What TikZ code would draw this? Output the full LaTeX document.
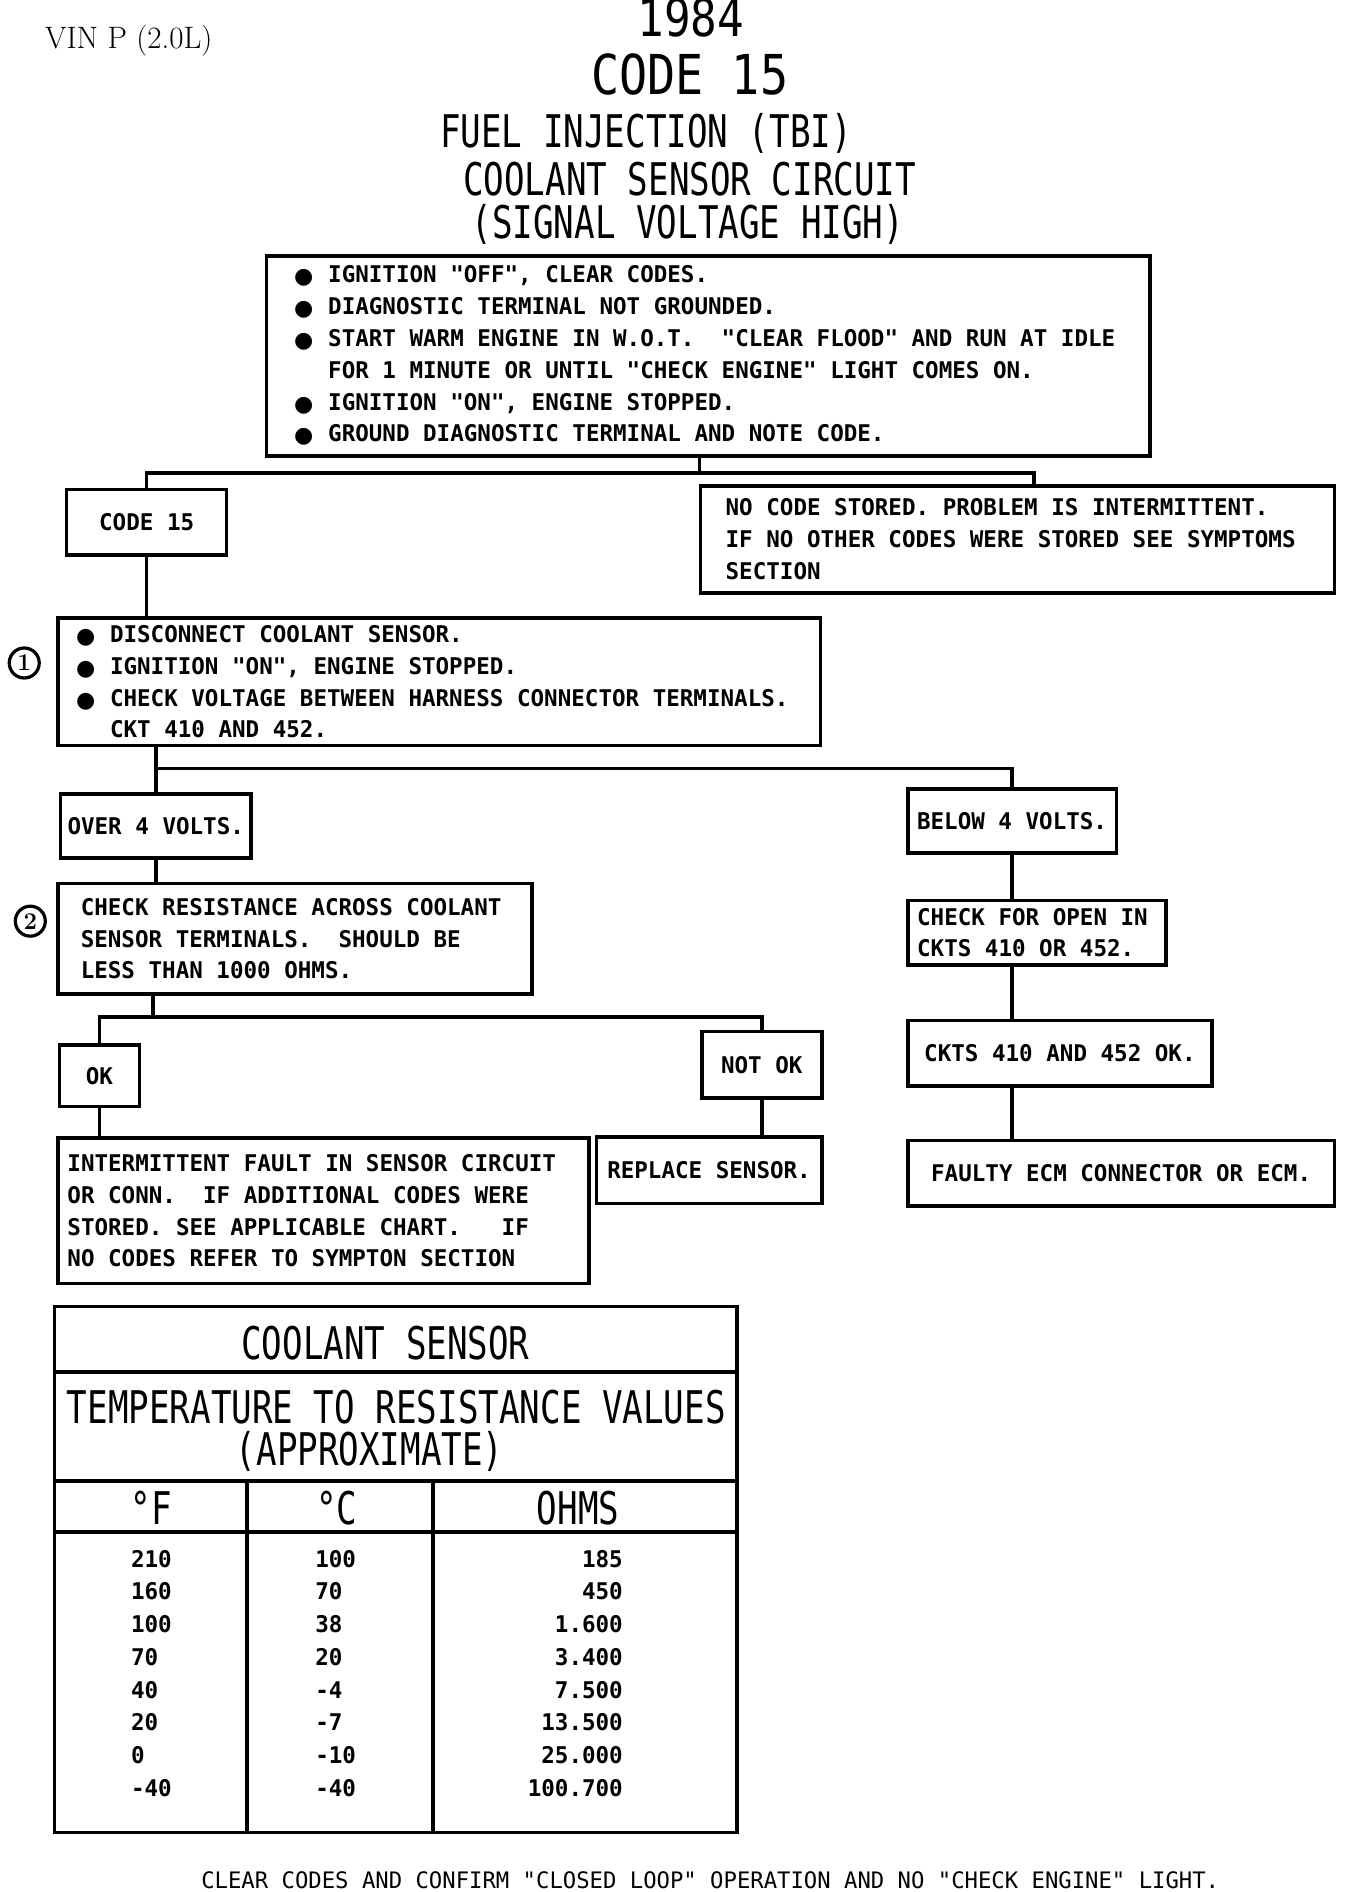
\documentclass[tikz,border=0pt]{standalone}
\usepackage{fontspec}
\newfontfamily\bodyf[FakeStretch=0.98]{DejaVu Sans Mono}
\newfontfamily\titlef[FakeStretch=0.76]{DejaVu Sans Mono}
\newfontfamily\codef[FakeStretch=0.85]{DejaVu Sans Mono}
\newfontfamily\symf{DejaVu Sans}
\newcommand\bodyt{\bodyf\bfseries\fontsize{23pt}{31.8pt}\selectfont\frenchspacing}
\newcommand\ttlt{\titlef\fontsize{45pt}{45pt}\selectfont}
\newcommand\foott{\bodyf\fontsize{22.7pt}{22.7pt}\selectfont\frenchspacing}
\newcommand\bl{\makebox[34pt][l]{\symf\fontsize{22pt}{22pt}\selectfont\raisebox{-1pt}{\char"25CF}}}
\begin{document}
\begin{tikzpicture}[x=1.212pt,y=-1.212pt,
  box/.style={draw, line width=3.6pt, inner sep=0pt, font=\bodyt},
  txt/.style={font=\bodyt, align=left, inner sep=0pt, anchor=west},
  link/.style={line width=3.6pt},
  tbl/.style={line width=3.6pt},
  ttl/.style={font=\ttlt, anchor=base, inner sep=0pt},
  num/.style={font=\bodyt, inner sep=0pt},
  stepno/.style={circle, draw, line width=3.2pt, minimum size=30pt, inner sep=0pt,
    font=\rmfamily\bfseries\fontsize{24pt}{24pt}\selectfont}]
\useasboundingbox (0,0) rectangle (1109,1561);

% ---------- titles ----------
\node[font=\codef\fontsize{52pt}{52pt}\selectfont, anchor=base, inner sep=0pt] (year) at (570,30) {1984};
\node[font=\codef\fontsize{55pt}{55pt}\selectfont, anchor=base, inner sep=0pt] (code) at (569,78) {CODE 15};
\node[ttl] (fuel) at (533,122) {FUEL INJECTION (TBI)};
\node[ttl] (circ) at (569,161) {COOLANT SENSOR CIRCUIT};
\node[ttl] (sig) at (567.5,197) {(SIGNAL VOLTAGE HIGH)};
\node[font=\rmfamily\fontsize{31pt}{31pt}\selectfont, anchor=base west, inner sep=0pt] (vin) at (37,40) {VIN P (2.0L)};

% ---------- boxes ----------
\node[box, minimum width=883.5pt, minimum height=200pt] (b1) at (584.5,293.5) {};
\node[txt] (b1t) at ([xshift=29.1pt]b1.west) {\bl IGNITION "OFF", CLEAR CODES.\\
\bl DIAGNOSTIC TERMINAL NOT GROUNDED.\\
\bl START WARM ENGINE IN W.O.T.\ \ "CLEAR FLOOD" AND RUN AT IDLE\\
\hspace*{34pt}FOR 1 MINUTE OR UNTIL "CHECK ENGINE" LIGHT COMES ON.\\
\bl IGNITION "ON", ENGINE STOPPED.\\
\bl GROUND DIAGNOSTIC TERMINAL AND NOTE CODE.};

\node[box, minimum width=160pt, minimum height=65.4pt] (code15) at (121,431) {CODE 15};

\node[box, minimum width=633.9pt, minimum height=106.7pt] (nocode) at (839.5,445) {};
\node[txt] (nocodet) at ([xshift=26.7pt]nocode.west) {NO CODE STORED. PROBLEM IS INTERMITTENT.\\
IF NO OTHER CODES WERE STORED SEE SYMPTOMS\\
SECTION};

\node[box, minimum width=762.3pt, minimum height=127.3pt] (step1) at (362.5,562.5) {};
\node[txt] (step1t) at ([xshift=19.4pt]step1.west) {\bl DISCONNECT COOLANT SENSOR.\\
\bl IGNITION "ON", ENGINE STOPPED.\\
\bl CHECK VOLTAGE BETWEEN HARNESS CONNECTOR TERMINALS.\\
\hspace*{34pt}CKT 410 AND 452.};
\node[stepno] (n1) at (20,547) {1};

\node[box, minimum width=190.3pt, minimum height=64.2pt] (over4) at (128.5,681.5) {OVER 4 VOLTS.};
\node[box, minimum width=208.5pt, minimum height=64.2pt] (below4) at (835,677.5) {BELOW 4 VOLTS.};

\node[box, minimum width=473.9pt, minimum height=110.3pt] (step2) at (243.5,774.5) {};
\node[txt] (step2t) at ([xshift=24.2pt]step2.west) {CHECK RESISTANCE ACROSS COOLANT\\
SENSOR TERMINALS.\ \ SHOULD BE\\
LESS THAN 1000 OHMS.};
\node[stepno] (n2) at (25,760) {2};

\node[box, minimum width=258.2pt, minimum height=64.2pt] (open) at (855.5,769.5) {};
\node[txt] (opent) at ([xshift=10.9pt]open.west) {CHECK FOR OPEN IN\\
CKTS 410 OR 452.};

\node[box, minimum width=304.2pt, minimum height=65.4pt] (ckts) at (874.5,869) {CKTS 410 AND 452 OK.};
\node[box, minimum width=426.6pt, minimum height=65.4pt] (faulty) at (925,968) {FAULTY ECM CONNECTOR OR ECM.};

\node[box, minimum width=80pt, minimum height=61.8pt] (ok) at (82,887.5) {OK};
\node[box, minimum width=120pt, minimum height=66.7pt] (notok) at (628.5,878.5) {NOT OK};

\node[box, minimum width=530.9pt, minimum height=145.4pt] (inter) at (267,999) {};
\node[txt] (intert) at ([xshift=10.9pt]inter.west) {INTERMITTENT FAULT IN SENSOR CIRCUIT\\
OR CONN.\ \ IF ADDITIONAL CODES WERE\\
STORED. SEE APPLICABLE CHART.\ \ \ IF\\
NO CODES REFER TO SYMPTON SECTION};
\node[box, minimum width=225.4pt, minimum height=66.7pt] (replace) at (585,965.5) {REPLACE SENSOR.};

% ---------- connectors ----------
\coordinate (h1L) at (121,390);
\coordinate (h1M) at (577,390);
\coordinate (h1R) at (853,390);
\draw[link] (b1.south -| h1M) -- (h1M);
\draw[link] (code15.north) -- (h1L) -- (h1R) -- (nocode.north -| h1R);
\draw[link] (code15.south) -- (step1.north -| code15.south);

\coordinate (h2L) at (128.5,634);
\coordinate (h2R) at (835,634);
\draw[link] (step1.south -| over4.north) -- (over4.north);
\draw[link] (h2L) -- (h2R) -- (below4.north);
\draw[link] (over4.south) -- (step2.north -| over4.south);

\coordinate (h3L) at (82,839);
\coordinate (h3M) at (126,839);
\coordinate (h3R) at (628.5,839);
\draw[link] (step2.south -| h3M) -- (h3M);
\draw[link] (ok.north) -- (h3L) -- (h3R) -- (notok.north);
\draw[link] (ok.south) -- (inter.north -| ok.south);
\draw[link] (notok.south) -- (replace.north -| notok.south);

\draw[link] (below4.south) -- (open.north -| below4.south);
\draw[link] (open.south -| below4.south) -- (ckts.north -| below4.south);
\draw[link] (ckts.south -| below4.south) -- (faulty.north -| below4.south);

% ---------- table ----------
\draw[tbl] (45,1078) rectangle (608,1512);
\draw[tbl] (45,1132) -- (608,1132);
\draw[tbl] (45,1222) -- (608,1222);
\draw[tbl] (45,1264) -- (608,1264);
\draw[tbl] (204,1222) -- (204,1512);
\draw[tbl] (357,1222) -- (357,1512);

\node[ttl] (tcs) at (318,1121.5) {COOLANT SENSOR};
\node[ttl] (ttr) at (327,1174.5) {TEMPERATURE TO RESISTANCE VALUES};
\node[ttl] (tap) at (305,1209.5) {(APPROXIMATE)};
\node[ttl] (hF) at (125,1257.5) {°F};
\node[ttl] (hC) at (278,1257.5) {°C};
\node[ttl] (hO) at (477,1257.5) {OHMS};

\foreach \f/\c/\o [count=\i from 0] in {210/100/185, 160/70/450, 100/38/1.600, 70/20/3.400,
    40/-4/7.500, 20/-7/13.500, 0/-10/25.000, -40/-40/100.700}{
  \node[num, anchor=base west] (f\i) at (108,1293+27*\i) {\f};
  \node[num, anchor=base west] (c\i) at (260,1293+27*\i) {\c};
  \node[num, anchor=base east] (o\i) at (514,1293+27*\i) {\o};
}

% ---------- footer ----------
\node[font=\foott, anchor=base, inner sep=0pt] (foot) at (586,1558) {CLEAR CODES AND CONFIRM "CLOSED LOOP" OPERATION AND NO "CHECK ENGINE" LIGHT.};
\end{tikzpicture}
\end{document}
